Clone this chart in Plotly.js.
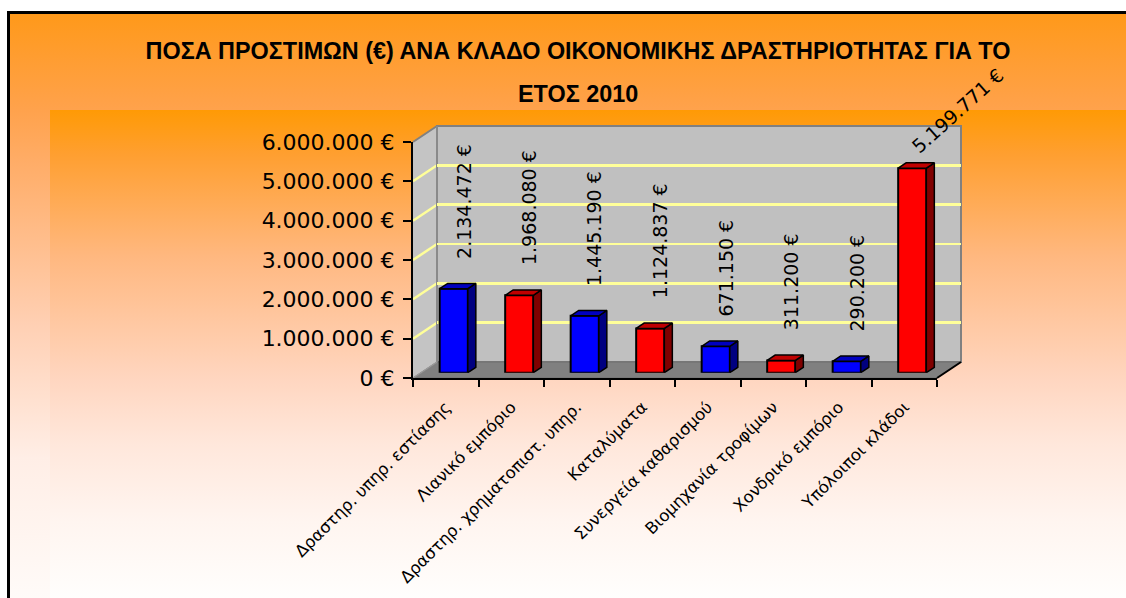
<!DOCTYPE html>
<html><head><meta charset="utf-8">
<script src="https://cdn.plot.ly/plotly-3.0.1.min.js"></script>
<style>
html,body{margin:0;padding:0;width:1126px;height:598px;overflow:hidden;background:#fff;}
#frame{position:absolute;left:7px;top:11px;width:1140px;height:600px;border-left:3px solid #000;border-top:3px solid #000;
 background:linear-gradient(to bottom,#FF991A 0%,#FFA24C 16%,#FFAD68 25%,#FFD0B4 52%,#FFEEE6 74%,#FFFCFA 100%);}
#inner{position:absolute;left:50px;top:110px;width:1090px;height:490px;
 background:linear-gradient(to bottom,#FF9A05 0%,#FF9F30 9%,#FFB880 30%,#FFD6C0 55%,#FFE7DB 68%,#FFF5F0 84%,#FFFEFD 100%);}
#chart{position:absolute;left:0;top:0;width:1126px;height:598px;}
</style></head>
<body><div id="frame"></div><div id="inner"></div><div id="chart"></div>
<script>
// ---- data ----
const titleLines = ['ΠΟΣΑ ΠΡΟΣΤΙΜΩΝ (€) ΑΝΑ ΚΛΑΔΟ ΟΙΚΟΝΟΜΙΚΗΣ ΔΡΑΣΤΗΡΙΟΤΗΤΑΣ ΓΙΑ ΤΟ', 'ΕΤΟΣ 2010'];
const categories = ['Δραστηρ. υπηρ. εστίασης', 'Λιανικό εμπόριο', 'Δραστηρ. χρηματοπιστ. υπηρ.', 'Καταλύματα',
  'Συνεργεία καθαρισμού', 'Βιομηχανία τροφίμων', 'Χονδρικό εμπόριο', 'Υπόλοιποι κλάδοι'];
const values = [2134472, 1968080, 1445190, 1124837, 671150, 311200, 290200, 5199771];
const yTickVals = [0, 1000000, 2000000, 3000000, 4000000, 5000000, 6000000];

// ---- styles / geometry ----
const W = 1126, H = 598;
const palette = [{front:'#0000FF', side:'#000080', top:'#0000C0'}, {front:'#FF0000', side:'#800000', top:'#C00000'}];
const FX0 = 413, FX1 = 937, FYB = 378, FYT = 142;   // front plane pixel box
const DX = 24, DY = 16;                              // 3D depth offset (px)
const YMAX = 6000000;
const n = categories.length;
const idx = categories.map((c, i) => i);
const dX = a => [a[0] / W, a[1] / W];
const dY = (bot, top) => [1 - bot / H, 1 - top / H];
const P = (x, y) => (x / W).toFixed(5) + ',' + (1 - y / H).toFixed(5);
const vy = v => (FYB - FYT) * v / YMAX;
const fmt = v => v.toString().replace(/\B(?=(\d{3})+(?!\d))/g, '.') + ' €';

const f = 1 / 3;  // bar front plane depth fraction
const barW = 0.43;
const ddx = (DX * f) / ((FX1 - FX0) / n);
const ddy = (DY * f) / (FYB - FYT) * YMAX;

const traces = [];
traces.push({type:'scatter', x:[], y:[], xaxis:'x', yaxis:'y', hoverinfo:'skip', showlegend:false});
traces.push({type:'scatter', x:[], y:[], xaxis:'x2', yaxis:'y2', hoverinfo:'skip', showlegend:false});
traces.push({type:'bar', x: idx, y: values, xaxis:'x3', yaxis:'y3', width: barW,
  marker:{color: idx.map(i => palette[i % 2].front), line:{color:'#000', width:2}}, showlegend:false, hoverinfo:'y'});
idx.forEach(i => {
  const v = values[i], xl = i - barW / 2, xr = i + barW / 2;
  traces.push({type:'scatter', mode:'lines', xaxis:'x3', yaxis:'y3', fill:'toself', fillcolor: palette[i % 2].side,
    x:[xr, xr, xr + ddx, xr + ddx, xr], y:[0, v, v + ddy, ddy, 0], line:{color:'#000', width:1.5}, hoverinfo:'skip', showlegend:false});
  traces.push({type:'scatter', mode:'lines', xaxis:'x3', yaxis:'y3', fill:'toself', fillcolor: palette[i % 2].top,
    x:[xl, xr, xr + ddx, xl + ddx, xl], y:[v, v, v + ddy, v + ddy, v], line:{color:'#000', width:1.5}, hoverinfo:'skip', showlegend:false});
});

const shapes = [];
shapes.push({type:'rect', xref:'x2 domain', yref:'y2 domain', x0:0, x1:1, y0:0, y1:1, fillcolor:'#C0C0C0', line:{color:'#808080', width:2}, layer:'below'});
shapes.push({type:'path', xref:'paper', yref:'paper', path:'M'+P(FX0,FYT)+'L'+P(FX0+DX,FYT-DY)+'L'+P(FX0+DX,FYB-DY)+'L'+P(FX0,FYB)+'Z', fillcolor:'#C4C4C4', line:{width:0}, layer:'below'});
shapes.push({type:'path', xref:'paper', yref:'paper', path:'M'+P(FX0,FYB)+'L'+P(FX1,FYB)+'L'+P(FX1+DX,FYB-DY)+'L'+P(FX0+DX,FYB-DY)+'Z', fillcolor:'#808080', line:{color:'#6E6E6E', width:1}, layer:'below'});
yTickVals.slice(1, -1).forEach(v => {
  shapes.push({type:'line', xref:'paper', yref:'paper', x0:FX0/W, y0:1-(FYB-vy(v))/H, x1:(FX0+DX)/W, y1:1-(FYB-DY-vy(v))/H, line:{color:'#FFFF99', width:2.5}, layer:'below'});
});
shapes.push({type:'line', xref:'paper', yref:'paper', x0:FX0/W, y0:1-FYT/H, x1:(FX0+DX)/W, y1:1-(FYT-DY)/H, line:{color:'#808080', width:2}, layer:'below'});
shapes.push({type:'line', xref:'paper', yref:'paper', x0:(FX0+DX)/W, y0:1-(FYT-DY)/H, x1:(FX0+DX)/W, y1:1-(FYB-DY)/H, line:{color:'#8A8A8A', width:2}, layer:'below'});
shapes.push({type:'line', xref:'paper', yref:'paper', x0:FX0/W, y0:1-FYB/H, x1:(FX0+DX)/W, y1:1-(FYB-DY)/H, line:{color:'#9A9A9A', width:1.5}, layer:'below'});
shapes.push({type:'line', xref:'paper', yref:'paper', x0:FX1/W, y0:1-FYB/H, x1:(FX1+DX)/W, y1:1-(FYB-DY)/H, line:{color:'#000', width:2}, layer:'above'});

const annotations = idx.map(i => {
  const v = values[i];
  const tall = v > 4500000;
  return {xref:'x3', yref:'y3', x:i, y:v, text: fmt(v), showarrow:false,
    textangle: tall ? -42 : -90, xanchor: tall ? 'left' : 'center', yanchor:'bottom',
    xshift: tall ? -8 : 10, yshift: tall ? 8 : 28,
    font:{family:'DejaVu Sans', size:19, color:'#000'}};
});
annotations.push({xref:'paper', yref:'paper', x:578/W, y:1-94/H, xanchor:'center', yanchor:'middle', showarrow:false,
  text:'<b>'+titleLines[1]+'</b>', font:{family:'Liberation Sans', size:23.4, color:'#000'}});

const layout = {
  width: W, height: H, margin:{l:0, r:0, t:0, b:0},
  paper_bgcolor:'rgba(0,0,0,0)', plot_bgcolor:'rgba(0,0,0,0)',
  showlegend:false,
  title:{text:'<b>'+titleLines[0]+'</b>', x:578/W, y:1-51/H, xanchor:'center', yanchor:'middle', xref:'paper', yref:'paper',
    font:{family:'Liberation Sans', size:23.4, color:'#000'}},
  xaxis:{domain:dX([FX0, FX1]), range:[-0.5, n - 0.5], anchor:'y', tickmode:'array', tickvals: idx, ticktext: categories,
    tickangle:-45, ticks:'', showgrid:false, zeroline:false, showline:true, linecolor:'#000', linewidth:2,
    ticklabelstandoff: 11, tickfont:{family:'DejaVu Sans', size:16.5, color:'#000'},
    minor:{tickmode:'linear', tick0:-0.5, dtick:1, ticks:'outside', ticklen:7, tickwidth:2, tickcolor:'#000', showgrid:false}},
  yaxis:{domain:dY(FYB, FYT), range:[0, YMAX], anchor:'x', tickmode:'array', tickvals: yTickVals, ticktext: yTickVals.map(fmt),
    ticks:'outside', ticklen:8, tickwidth:2, tickcolor:'#000',
    showgrid:false, zeroline:false, showline:true, linecolor:'#000', linewidth:2, ticklabelstandoff: 4,
    tickfont:{family:'DejaVu Sans', size:22, color:'#000'}},
  xaxis2:{domain:dX([FX0+DX, FX1+DX]), range:[-0.5, n - 0.5], anchor:'y2', visible:false},
  yaxis2:{domain:dY(FYB-DY, FYT-DY), range:[0, YMAX], anchor:'x2', tickmode:'array', tickvals: yTickVals.slice(1, -1),
    showticklabels:false, ticks:'', showline:false, zeroline:false, showgrid:true, gridcolor:'#FFFF99', gridwidth:2.5},
  xaxis3:{domain:dX([FX0+DX*f, FX1+DX*f]), range:[-0.5, n - 0.5], anchor:'y3', visible:false},
  yaxis3:{domain:dY(FYB-DY*f, FYT-DY*f), range:[0, YMAX], anchor:'x3', visible:false},
  shapes: shapes, annotations: annotations, bargap:0
};
Plotly.newPlot('chart', traces, layout, {displayModeBar:false, staticPlot:true});
</script>
</body></html>
